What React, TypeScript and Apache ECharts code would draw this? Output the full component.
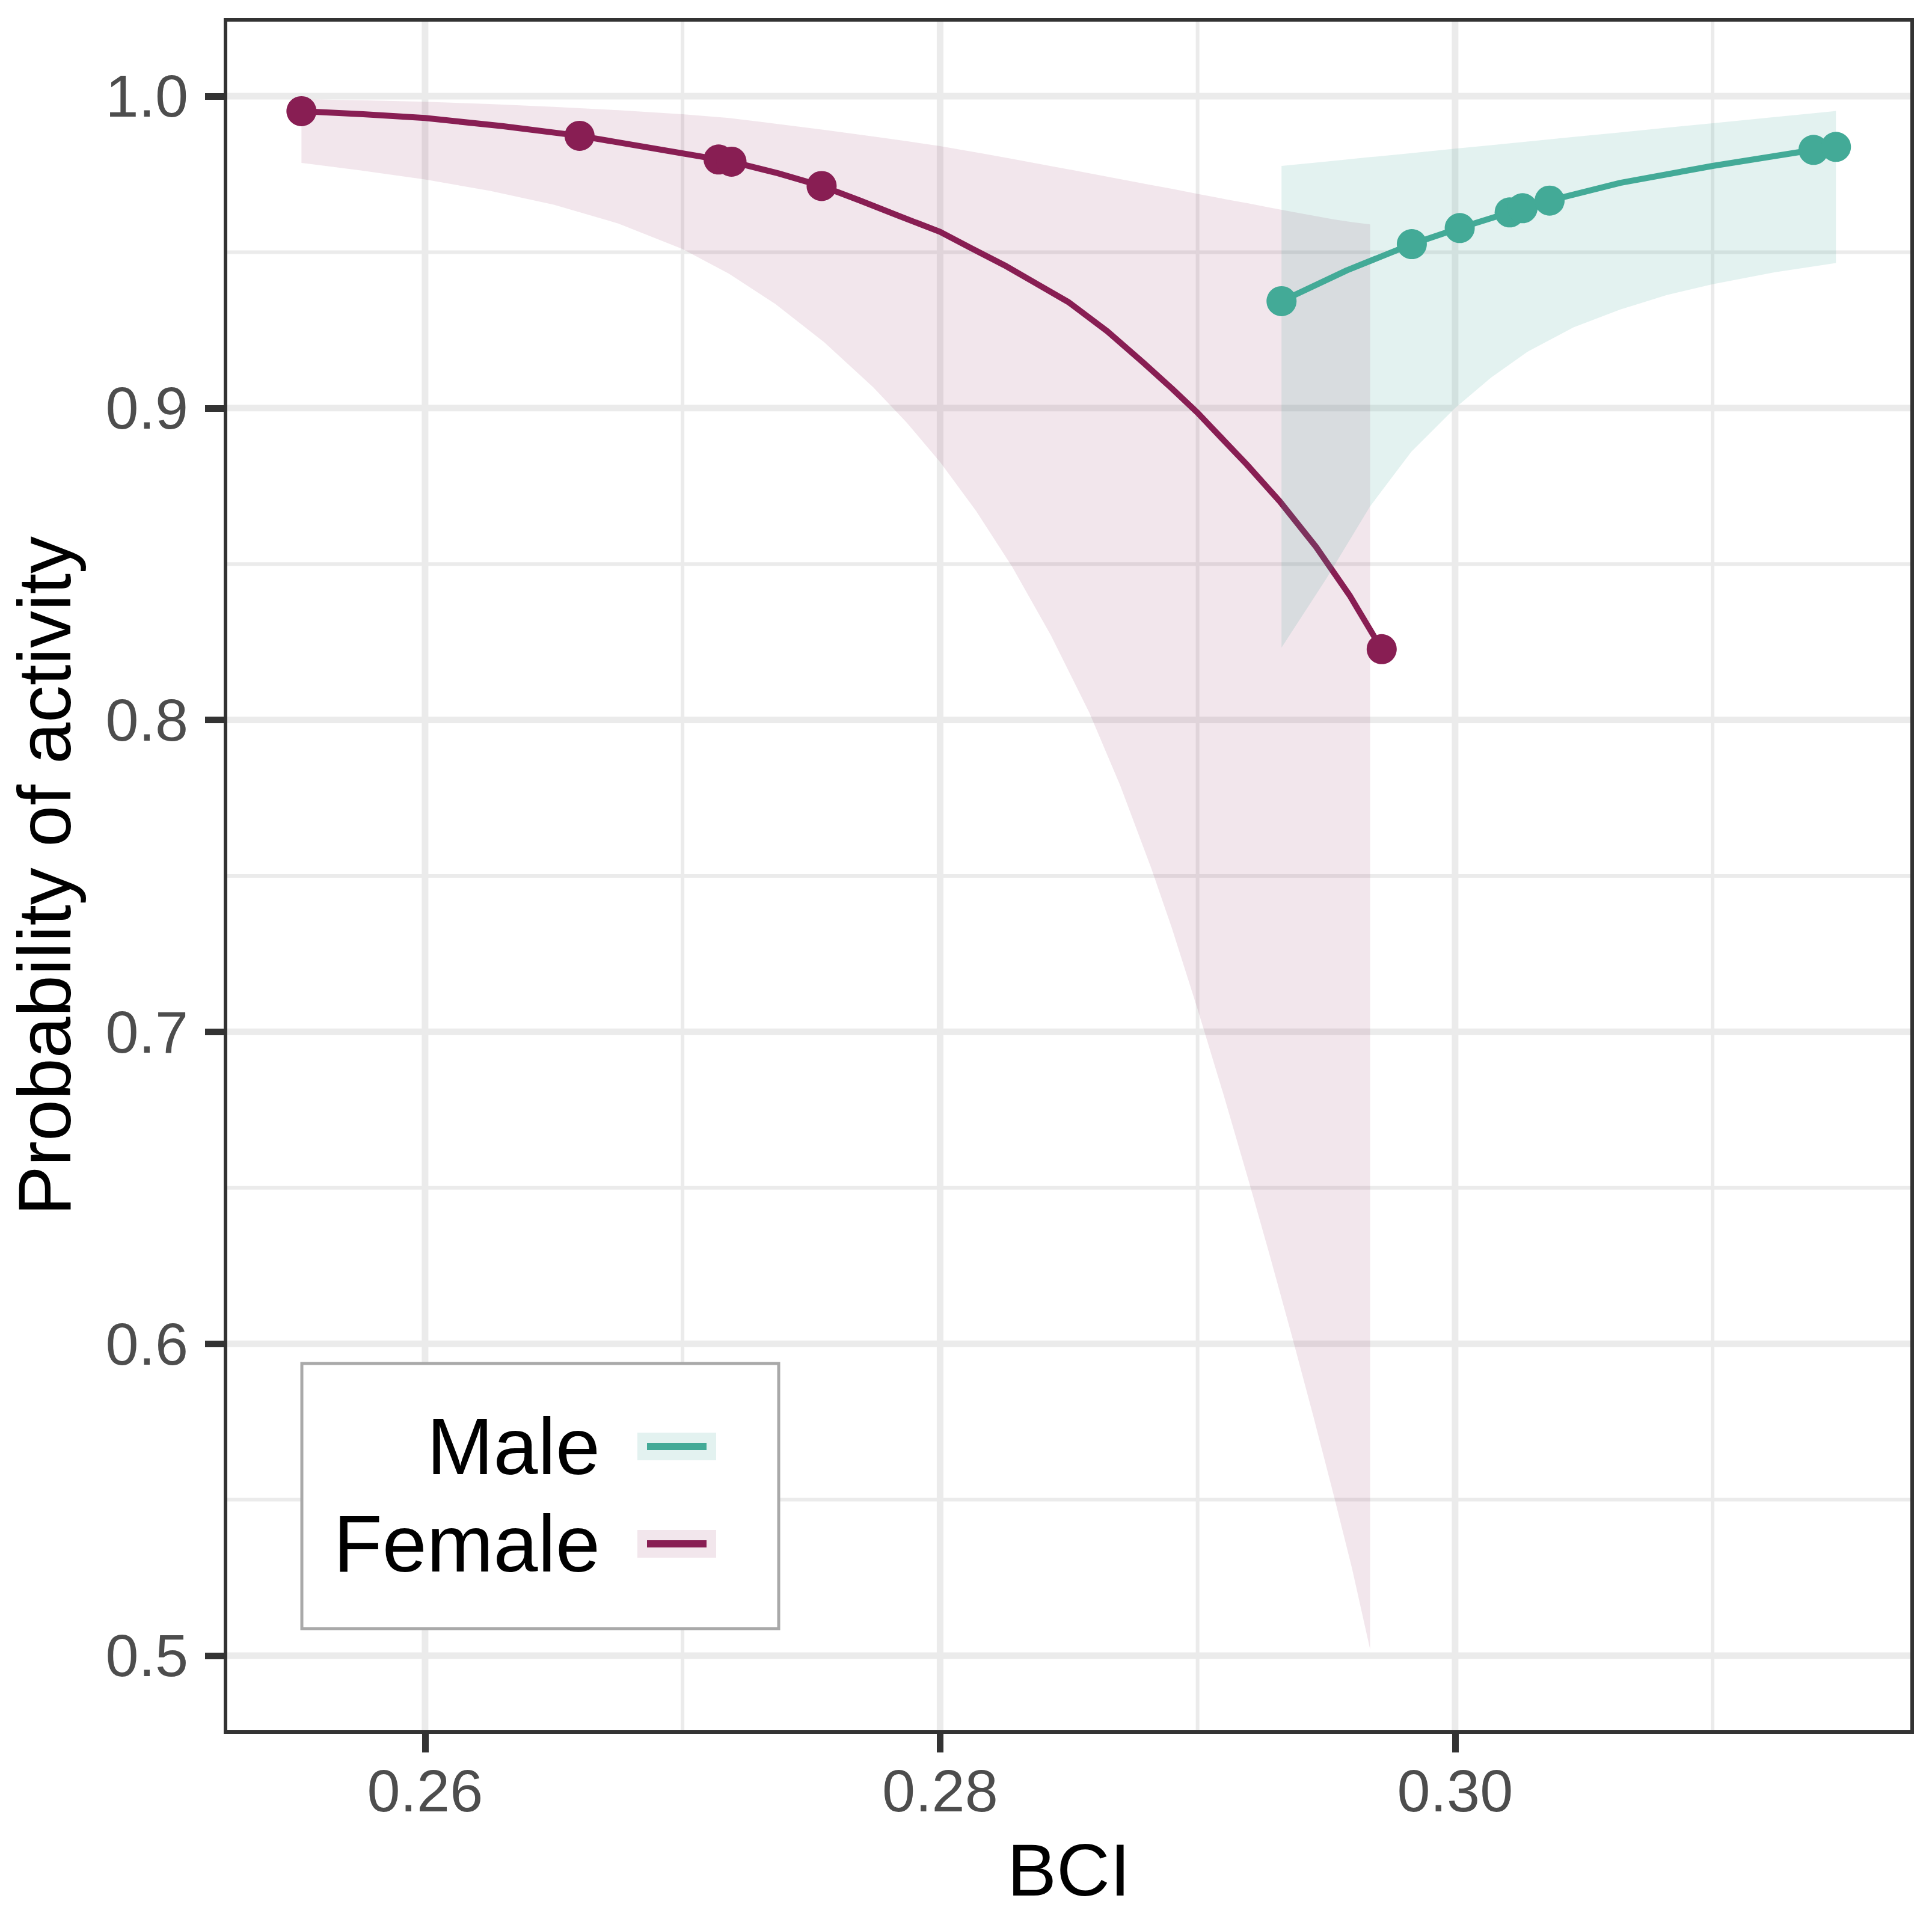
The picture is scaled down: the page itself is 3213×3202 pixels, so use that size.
import { useEffect, useRef } from 'react';
import * as echarts from 'echarts';

// axis ranges
const X_MIN = 0.25225;
const X_MAX = 0.31775;
const Y_MIN = 0.47551;
const Y_MAX = 1.02448;

const xMajor = [0.26, 0.28, 0.3];
const xMinor = [0.27, 0.29, 0.31];
const yMajor = [0.5, 0.6, 0.7, 0.8, 0.9, 1.0];
const yMinor = [0.55, 0.65, 0.75, 0.85, 0.95];

// observed points
const femaleX = [0.2552, 0.266, 0.2714, 0.2719, 0.2754, 0.29715];
const femaleY = [0.9952, 0.9873, 0.9797, 0.979, 0.9712, 0.8227];
const maleX = [0.29326, 0.29832, 0.30018, 0.30212, 0.30262, 0.30367, 0.31392, 0.31479];
const maleY = [0.93428, 0.95257, 0.95772, 0.96274, 0.96409, 0.96653, 0.98279, 0.98374];

// fitted curves
const femaleFitX = [0.2552, 0.2576, 0.26, 0.263, 0.266, 0.2714, 0.2719, 0.2737, 0.2754, 0.2769, 0.2784, 0.28, 0.2812, 0.2825, 0.2837, 0.285, 0.2865, 0.2879, 0.289, 0.29, 0.291, 0.2919, 0.2932, 0.2946, 0.2959, 0.29715];
const femaleFitY = [0.9952, 0.9942, 0.993, 0.9904, 0.9873, 0.9797, 0.979, 0.9753, 0.9712, 0.9665, 0.9616, 0.9565, 0.9513, 0.9458, 0.9401, 0.9339, 0.9246, 0.9145, 0.9063, 0.8985, 0.8898, 0.882, 0.87, 0.8555, 0.84, 0.8227];
const maleFitX = [0.29326, 0.2958, 0.29832, 0.30018, 0.30212, 0.30262, 0.30367, 0.30642, 0.31, 0.31392, 0.31479];
const maleFitY = [0.93428, 0.94417, 0.95257, 0.95772, 0.96274, 0.96409, 0.96653, 0.97222, 0.97764, 0.98279, 0.98374];

// confidence ribbons
const femaleBandX = [0.2552, 0.2575, 0.26, 0.2625, 0.265, 0.2675, 0.27, 0.2718, 0.2736, 0.2755, 0.2774, 0.2787, 0.28, 0.2814, 0.2828, 0.2843, 0.2858, 0.287, 0.2882, 0.289, 0.29, 0.291, 0.292, 0.2928, 0.2937, 0.2945, 0.2953, 0.296, 0.2967];
const femaleLower = [0.9786, 0.9762, 0.9733, 0.9697, 0.9652, 0.9592, 0.951, 0.9431, 0.9334, 0.9211, 0.9067, 0.8954, 0.8827, 0.867, 0.8491, 0.8272, 0.8023, 0.7789, 0.7525, 0.7333, 0.7073, 0.6801, 0.6518, 0.6284, 0.6014, 0.5766, 0.551, 0.5279, 0.502];
const femaleUpper = [0.999, 0.9987, 0.9982, 0.9975, 0.9966, 0.9955, 0.9942, 0.993, 0.9912, 0.9892, 0.9871, 0.9856, 0.984, 0.982, 0.9799, 0.9776, 0.9753, 0.9734, 0.9715, 0.9703, 0.9687, 0.9671, 0.9656, 0.9643, 0.9629, 0.9617, 0.9605, 0.9596, 0.9589];
const maleBandX = [0.29326, 0.295, 0.2967, 0.2983, 0.3, 0.3014, 0.3028, 0.3046, 0.30642, 0.3082, 0.31, 0.3124, 0.31479];
const maleLower = [0.8232, 0.8453, 0.8685, 0.886, 0.9, 0.9098, 0.918, 0.9259, 0.9316, 0.9362, 0.9397, 0.9435, 0.9465];
const maleUpper = [0.97764, 0.97906, 0.98046, 0.98176, 0.98316, 0.9843, 0.98545, 0.98692, 0.98841, 0.98988, 0.99134, 0.9933, 0.99526];

const FEMALE = '#881E53';
const MALE = '#43AA97';
const FEMALE_FILL = 'rgba(136,30,83,0.11)';
const MALE_FILL = 'rgba(67,170,151,0.15)';
const FONT = '"Liberation Sans", Arial, sans-serif';

const GRID = { left: 375, top: 33, width: 2805, height: 2848 };

const ribbon = (xs: number[], lo: number[], hi: number[], fill: string, z: number) => ({
  type: 'custom',
  z,
  silent: true,
  data: xs.map((x, i) => [x, lo[i], hi[i]]),
  encode: { x: 0, y: [1, 2] },
  renderItem: (params: any, api: any) => {
    if (params.dataIndex !== 0) return { type: 'group', children: [] };
    const top = xs.map((x, i) => api.coord([x, hi[i]]));
    const bottom = xs.map((x, i) => api.coord([x, lo[i]])).reverse();
    return { type: 'polygon', shape: { points: top.concat(bottom) }, style: { fill } };
  },
});

const gridLines = (values: number[], horizontal: boolean, width: number) => ({
  type: 'custom',
  z: 1,
  silent: true,
  data: values.map((v) => [v]),
  encode: horizontal ? { y: 0 } : { x: 0 },
  renderItem: (_params: any, api: any) => {
    const v = api.value(0);
    const a = horizontal ? api.coord([X_MIN, v]) : api.coord([v, Y_MIN]);
    const b = horizontal ? api.coord([X_MAX, v]) : api.coord([v, Y_MAX]);
    return {
      type: 'line',
      shape: { x1: a[0], y1: a[1], x2: b[0], y2: b[1] },
      style: { stroke: '#EBEBEB', lineWidth: width },
    };
  },
});

const legendItem = (label: string, y: number, line: string, fill: string) => [
  {
    type: 'text',
    z: 102,
    silent: true,
    x: 998,
    y,
    style: { text: label, fontSize: 133, fontFamily: FONT, fill: '#000', align: 'right', verticalAlign: 'middle' },
  },
  { type: 'rect', z: 101, silent: true, shape: { x: 1060, y: y - 23, width: 131, height: 46 }, style: { fill: '#fff' } },
  { type: 'rect', z: 102, silent: true, shape: { x: 1060, y: y - 23, width: 131, height: 46 }, style: { fill } },
  { type: 'rect', z: 103, silent: true, shape: { x: 1076, y: y - 6, width: 99, height: 12 }, style: { fill: line } },
];

const App: React.FC = () => {
  const chartRef = useRef<HTMLDivElement>(null);

  useEffect(() => {
    if (!chartRef.current) return;
    const chart = echarts.init(chartRef.current, null, { renderer: 'svg' });

    const option: any = {
      animation: false,
      backgroundColor: '#fff',
      textStyle: { fontFamily: FONT },
      grid: { ...GRID, show: false },
      xAxis: {
        type: 'value',
        min: X_MIN,
        max: X_MAX,
        name: 'BCI',
        nameLocation: 'middle',
        nameGap: 168,
        nameTextStyle: { fontSize: 123, color: '#000', fontFamily: FONT },
        axisLine: { show: false },
        axisTick: { show: true, length: 34, customValues: xMajor, lineStyle: { color: '#333', width: 11 } },
        axisLabel: {
          customValues: xMajor,
          margin: 48,
          fontSize: 99,
          color: '#4D4D4D',
          fontFamily: FONT,
          formatter: (v: number) => v.toFixed(2),
        },
        splitLine: { show: false },
      },
      yAxis: {
        type: 'value',
        min: Y_MIN,
        max: Y_MAX,
        name: 'Probability of activity',
        nameLocation: 'middle',
        nameGap: 239,
        nameTextStyle: { fontSize: 124, color: '#000', fontFamily: FONT },
        axisLine: { show: false },
        axisTick: { show: true, length: 34, customValues: yMajor, lineStyle: { color: '#333', width: 11 } },
        axisLabel: {
          customValues: yMajor,
          margin: 62,
          fontSize: 99,
          color: '#4D4D4D',
          fontFamily: FONT,
          formatter: (v: number) => v.toFixed(1),
        },
        splitLine: { show: false },
      },
      series: [
        gridLines(yMinor, true, 6),
        gridLines(xMinor, false, 6),
        gridLines(yMajor, true, 11),
        gridLines(xMajor, false, 11),
        ribbon(femaleBandX, femaleLower, femaleUpper, FEMALE_FILL, 2),
        {
          type: 'line',
          z: 3,
          data: femaleFitX.map((x, i) => [x, femaleFitY[i]]),
          showSymbol: false,
          smooth: false,
          lineStyle: { color: FEMALE, width: 10, join: 'round', cap: 'round' },
          silent: true,
        },
        {
          type: 'scatter',
          z: 4,
          data: femaleX.map((x, i) => [x, femaleY[i]]),
          symbolSize: 50,
          itemStyle: { color: FEMALE, opacity: 1 },
          silent: true,
        },
        ribbon(maleBandX, maleLower, maleUpper, MALE_FILL, 5),
        {
          type: 'line',
          z: 6,
          data: maleFitX.map((x, i) => [x, maleFitY[i]]),
          showSymbol: false,
          smooth: false,
          lineStyle: { color: MALE, width: 10, join: 'round', cap: 'round' },
          silent: true,
        },
        {
          type: 'scatter',
          z: 7,
          data: maleX.map((x, i) => [x, maleY[i]]),
          symbolSize: 50,
          itemStyle: { color: MALE, opacity: 1 },
          silent: true,
        },
      ],
      graphic: [
        {
          type: 'rect',
          z: 100,
          silent: true,
          shape: { x: GRID.left, y: GRID.top, width: GRID.width, height: GRID.height },
          style: { fill: 'none', stroke: '#333', lineWidth: 6 },
        },
        {
          type: 'rect',
          z: 100,
          silent: true,
          shape: { x: 502, y: 2268, width: 793, height: 441 },
          style: { fill: '#fff', stroke: '#A9A9A9', lineWidth: 5 },
        },
        ...legendItem('Male', 2406, MALE, MALE_FILL),
        ...legendItem('Female', 2568, FEMALE, FEMALE_FILL),
      ],
    };
    chart.setOption(option);

    return () => {
      if (!chart.isDisposed()) chart.dispose();
    };
  }, []);

  return (
    <div
      ref={chartRef}
      style={{ position: 'fixed', left: 0, top: 0, width: '3213px', height: '3202px' }}
    ></div>
  );
};

export default App;
